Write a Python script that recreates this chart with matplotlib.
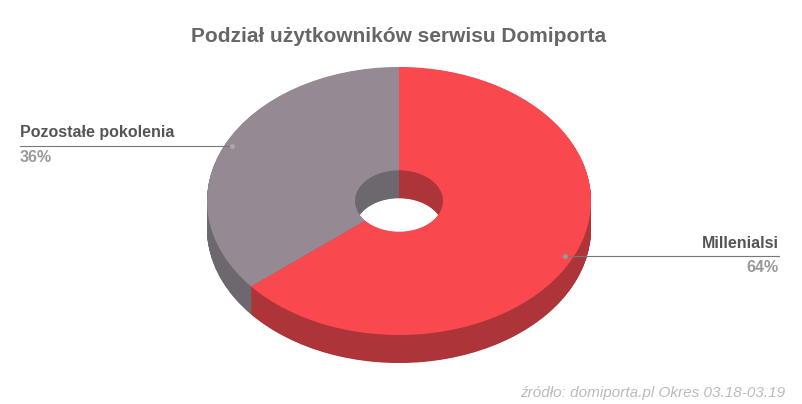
import numpy as np
import matplotlib.pyplot as plt

plt.rcParams['font.family'] = ['Liberation Sans', 'DejaVu Sans']

labels = ["Millenialsi", "Pozostałe pokolenia"]
shares = [64, 36]
top_colors = ["#f9494f", "#958a94"]
side_colors = ["#ad3539", "#6c686e"]
title = "Podział użytkowników serwisu Domiporta"
source = "źródło: domiporta.pl Okres 03.18-03.19"

W, H = 803, 404
fig = plt.figure(figsize=(W / 100, H / 100), dpi=100)
ax = fig.add_axes([0, 0, 1, 1])
rx, ry = 192.0, 134.0
sy = rx / ry  # vertical squash so circles become ellipses

cx, cy_px = 399, 201
depth_px = 28
hole = 44 / rx

def py(p):
    return (H - p) * sy

# extruded side: stack darker rings from the bottom up
for d in np.arange(depth_px, 0, -0.5):
    ax.pie(shares, colors=side_colors, startangle=90, counterclock=False,
           radius=rx, center=(cx, py(cy_px + d)), frame=True,
           wedgeprops=dict(width=rx * (1 - hole), linewidth=0))
ax.pie(shares, colors=top_colors, startangle=90, counterclock=False,
       radius=rx, center=(cx, py(cy_px)), frame=True,
       wedgeprops=dict(width=rx * (1 - hole), linewidth=0))

def ft(x, y, s, **kw):
    fig.text(x / W, 1 - y / H, s, **kw)

ft(399, 37, title, ha="center", va="center", fontsize=15, fontweight="bold", color="#666666")
ft(785, 393, source, ha="right", va="center", fontsize=11, style="italic", color="#bbbbbb")

# leader lines and labels
ax.plot([565, 779], [py(256), py(256)], color="#777777", lw=0.8)
ax.plot([565], [py(256)], "o", color="#999999", ms=2.5)
ft(779, 243, labels[0], ha="right", va="center", fontsize=11.5, fontweight="bold", color="#555555")
ft(779, 267, f"{shares[0]}%", ha="right", va="center", fontsize=11.5, fontweight="bold", color="#999999")

ax.plot([20, 232], [py(146), py(146)], color="#777777", lw=0.8)
ax.plot([232], [py(146)], "o", color="#aaaaaa", ms=2.5)
ft(20, 133, labels[1], ha="left", va="center", fontsize=11.5, fontweight="bold", color="#555555")
ft(20, 157, f"{shares[1]}%", ha="left", va="center", fontsize=11.5, fontweight="bold", color="#999999")

ax.set_aspect("auto")
ax.set_xlim(0, W)
ax.set_ylim(0, H * sy)
ax.axis("off")

fig.savefig("out.png", dpi=100)
